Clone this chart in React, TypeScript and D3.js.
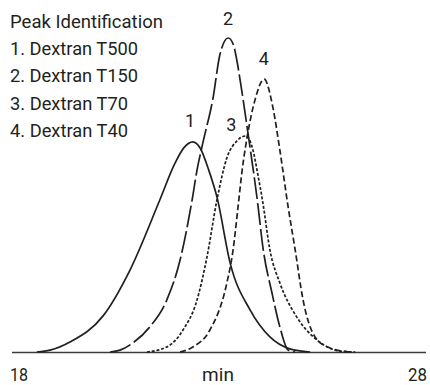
import React, { useEffect, useRef } from 'react'
import * as d3 from 'd3'

// retention time axis (min)
const xTicks = [18, 28]
const xTitle = 'min'

const legendTitle = 'Peak Identification'
const peakNames = ['1. Dextran T500', '2. Dextran T150', '3. Dextran T70', '4. Dextran T40']
const peakLabels = ['1', '2', '3', '4']

// traces: time (min) / relative response
const t500Time = [18.6, 18.92, 19.4, 20.2, 20.85, 21.57, 21.94, 22.15, 22.37, 22.55, 22.75, 22.95, 23.27, 23.75, 24.23, 24.71, 25.2]
const t500Resp = [0, 0.6, 3.2, 11.5, 26.1, 48.4, 60.2, 65.0, 66.9, 64.8, 58.0, 49.4, 28.3, 13.4, 4.8, 1.0, 0]

const t150Time = [20.37, 20.61, 20.92, 21.33, 21.74, 22.06, 22.35, 22.47, 22.61, 22.86, 23.02, 23.22, 23.34, 23.43, 23.51, 23.7, 23.94, 24.06, 24.28, 24.47, 24.67, 24.84]
const t150Resp = [0, 0.6, 2.9, 8.0, 16.6, 29.3, 48.4, 58.0, 66.6, 81.2, 94.6, 100, 98.1, 93.0, 86.6, 69.7, 46.8, 33.4, 18.8, 8.0, 0.6, 0]

const t70Time = [21.26, 21.74, 22.13, 22.47, 22.71, 22.95, 23.19, 23.43, 23.65, 23.82, 23.94, 24.06, 24.23, 24.47, 24.88, 25.37, 25.92, 26.29]
const t70Resp = [0, 1.6, 7.0, 16.6, 30.3, 48.4, 61.8, 67.2, 68.8, 64.3, 56.4, 47.5, 32.5, 22.0, 11.1, 3.8, 0.3, 0]

const t40Time = [22.06, 22.37, 22.78, 23.19, 23.34, 23.46, 23.56, 23.68, 23.87, 24.09, 24.3, 24.47, 24.67, 24.84, 25.03, 25.32, 25.68, 26.16]
const t40Resp = [0, 1.6, 7.0, 22.0, 32.5, 46.2, 58.0, 68.5, 80.3, 86.9, 78.0, 64.3, 46.2, 32.5, 16.6, 4.8, 1.3, 0]

// where each peak number sits (apex time, label height)
const labelTime = [22.3, 23.22, 23.3, 24.08]
const labelResp = [71.5, 104, 70.5, 91.5]

const ink = '#231f20'
const font = 'Roboto, "Liberation Sans", sans-serif'

const App = () => {
  const ref = useRef<SVGSVGElement>(null)

  useEffect(() => {
    const svg = d3.select(ref.current)
    svg.selectAll('*').remove()

    const x = d3.scaleLinear().domain([18, 28]).range([12, 426])
    const y = d3.scaleLinear().domain([0, 100]).range([352, 38])

    // baseline
    svg.append('line')
      .attr('x1', x(18)).attr('x2', x(28))
      .attr('y1', y(0) + 0.5).attr('y2', y(0) + 0.5)
      .attr('stroke', '#3a3a3a').attr('stroke-width', 1.7)

    const line = d3.line<[number, number]>()
      .x(d => x(d[0]))
      .y(d => y(d[1]))
      .curve(d3.curveMonotoneX)

    const traces = [
      { t: t500Time, r: t500Resp, dash: null },
      { t: t150Time, r: t150Resp, dash: '22,4' },
      { t: t70Time, r: t70Resp, dash: '3,1.8' },
      { t: t40Time, r: t40Resp, dash: '6,3' },
    ]

    traces.forEach(tr => {
      const pts = tr.t.map((v, i) => [v, tr.r[i]] as [number, number])
      svg.append('path')
        .attr('d', line(pts))
        .attr('fill', 'none')
        .attr('stroke', ink)
        .attr('stroke-width', 1.7)
        .attr('stroke-dasharray', tr.dash)
    })

    // peak numbers
    svg.selectAll('.plabel')
      .data(peakLabels)
      .enter()
      .append('text')
      .attr('x', (d, i) => x(labelTime[i]))
      .attr('y', (d, i) => y(labelResp[i]))
      .attr('text-anchor', 'middle')
      .attr('font-size', 18)
      .attr('font-family', font)
      .attr('fill', ink)
      .text(d => d)

    // legend block
    const legendLines = [legendTitle, ...peakNames]
    const widths = [153, 128, 128, 118, 118]
    svg.selectAll('.legend')
      .data(legendLines)
      .enter()
      .append('text')
      .attr('x', 10)
      .attr('y', (d, i) => 28 + i * 27.2)
      .attr('font-size', 19)
      .attr('font-family', font)
      .attr('fill', ink)
      .attr('textLength', (d, i) => widths[i])
      .attr('lengthAdjust', 'spacingAndGlyphs')
      .text(d => d)

    // axis labels
    const tick = svg.append('g')
      .attr('font-size', 19)
      .attr('font-family', font).attr('fill', ink)
    tick.append('text')
      .attr('x', x(xTicks[0]) - 2).attr('y', 381)
      .attr('textLength', 18).attr('lengthAdjust', 'spacingAndGlyphs')
      .text(xTicks[0])
    tick.append('text')
      .attr('x', x(xTicks[1]) + 1).attr('y', 381)
      .attr('text-anchor', 'end')
      .attr('textLength', 19).attr('lengthAdjust', 'spacingAndGlyphs')
      .text(xTicks[1])
    tick.append('text')
      .attr('x', x(23) - 1).attr('y', 381)
      .attr('text-anchor', 'middle')
      .text(xTitle)
  }, [])

  return (
    <svg ref={ref} width={430} height={385}
      style={{ position: 'absolute', left: 0, top: 0, background: '#fff' }} />
  )
}

export default App
